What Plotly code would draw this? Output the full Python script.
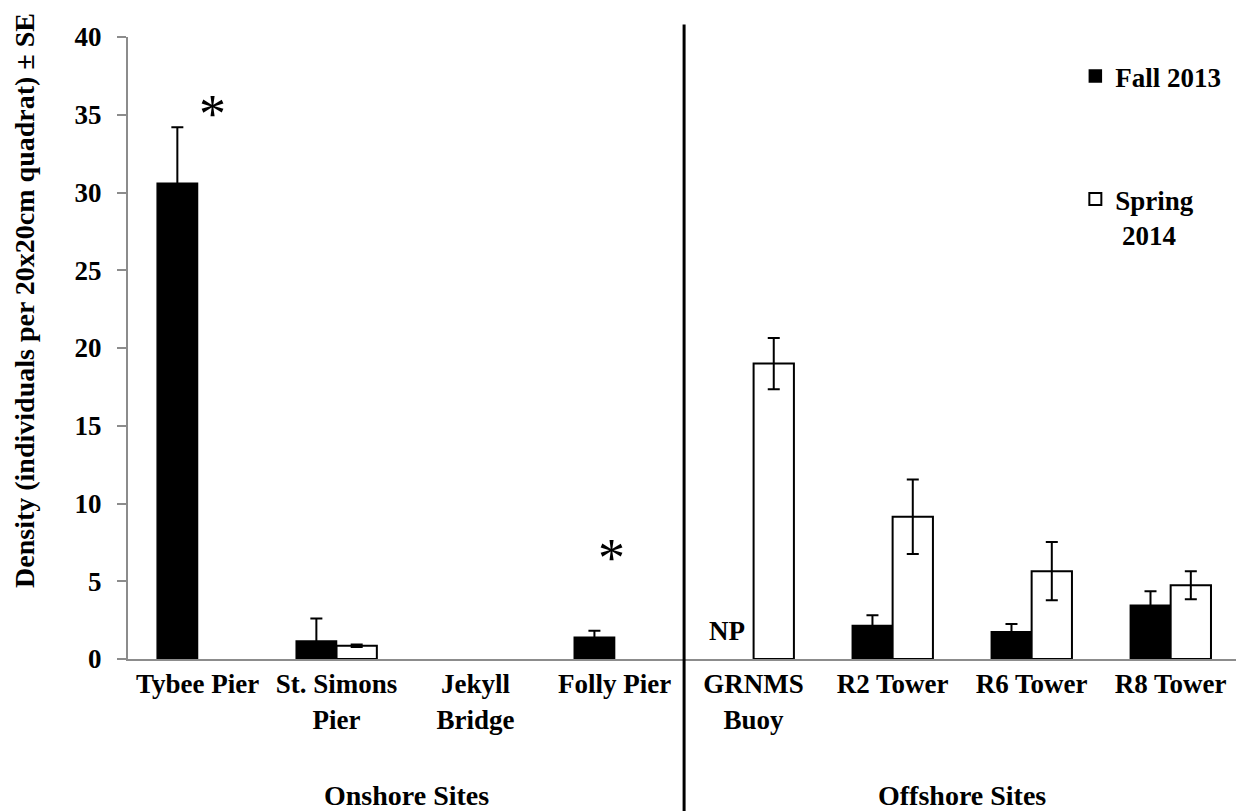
import plotly.graph_objects as go

categories = ["Tybee Pier", "St. Simons<br>Pier", "Jekyll<br>Bridge", "Folly Pier",
              "GRNMS<br>Buoy", "R2 Tower", "R6 Tower", "R8 Tower"]
fall = [30.6, 1.15, None, 1.4, None, 2.15, 1.75, 3.45]
fall_se = [3.6, 1.45, None, 0.42, None, 0.66, 0.5, 0.9]
spring = [None, 0.85, None, None, 19.0, 9.15, 5.65, 4.75]
spring_se = [None, 0.08, None, None, 1.65, 2.4, 1.87, 0.9]
yticks = [0, 5, 10, 15, 20, 25, 30, 35, 40]

FONT = "Liberation Serif"
idx = list(range(len(categories)))


def f(size, weight="bold"):
    return dict(family=FONT, size=size, color="black", weight=weight)


fig = go.Figure()
fig.add_trace(go.Bar(
    x=idx, y=fall, name="Fall 2013", legendgroup="a",
    marker=dict(color="black", line=dict(color="black", width=1.5)),
    error_y=dict(type="data", array=fall_se, color="black", thickness=2, width=6),
))
fig.add_trace(go.Bar(
    x=idx, y=spring, name="Spring<br> 2014", legendgroup="b",
    marker=dict(color="white", line=dict(color="black", width=2)),
    error_y=dict(type="data", array=spring_se, color="black", thickness=2, width=6),
))

fig.update_layout(
    width=1236, height=811,
    margin=dict(l=128, r=0, t=37, b=152),
    plot_bgcolor="white", paper_bgcolor="white",
    barmode="group", bargap=0.42, bargroupgap=0,
    font=f(27),
    legend=dict(x=0.855, y=0.976, xanchor="left", yanchor="top", valign="top",
                font=f(27), tracegroupgap=85, bgcolor="rgba(0,0,0,0)", itemwidth=30),
    xaxis=dict(
        tickmode="array", tickvals=idx, ticktext=categories,
        range=[-0.5, 7.47], showline=True, linecolor="#8c8c8c", linewidth=2,
        ticks="", showgrid=False, zeroline=False, tickfont=f(27),
    ),
    yaxis=dict(
        range=[0, 40], tickvals=yticks, showline=True, linecolor="#8c8c8c", linewidth=2,
        ticks="outside", ticklen=9, tickcolor="#8c8c8c", tickwidth=2,
        showgrid=False, zeroline=False, ticklabelstandoff=10, tickfont=f(27),
    ),
)

fig.add_shape(type="line", xref="x", yref="paper", x0=3.5, x1=3.5, y0=-0.25, y1=1.02,
              line=dict(color="black", width=3))

fig.add_annotation(text="Density (individuals per 20x20cm quadrat) ± SE",
                   xref="paper", yref="paper", x=-0.094, y=0.577, textangle=-90,
                   xanchor="center", yanchor="middle",
                   showarrow=False, font=f(28))
fig.add_annotation(text="Onshore Sites", xref="x", yref="paper", x=1.5, y=-0.219,
                   xanchor="center", yanchor="middle", showarrow=False, font=f(28))
fig.add_annotation(text="Offshore Sites", xref="x", yref="paper", x=5.5, y=-0.219,
                   xanchor="center", yanchor="middle", showarrow=False, font=f(28))
fig.add_annotation(text="NP", xref="x", yref="y", x=3.81, y=1.8,
                   showarrow=False, font=f(27))
fig.add_annotation(text="*", xref="x", yref="y", x=0.11, y=35.05,
                   showarrow=False, font=f(54, "normal"))
fig.add_annotation(text="*", xref="x", yref="y", x=2.98, y=6.5,
                   showarrow=False, font=f(54, "normal"))

fig.write_html("out.html", config={"displayModeBar": False},
               post_script="document.body.style.margin='0px';")
